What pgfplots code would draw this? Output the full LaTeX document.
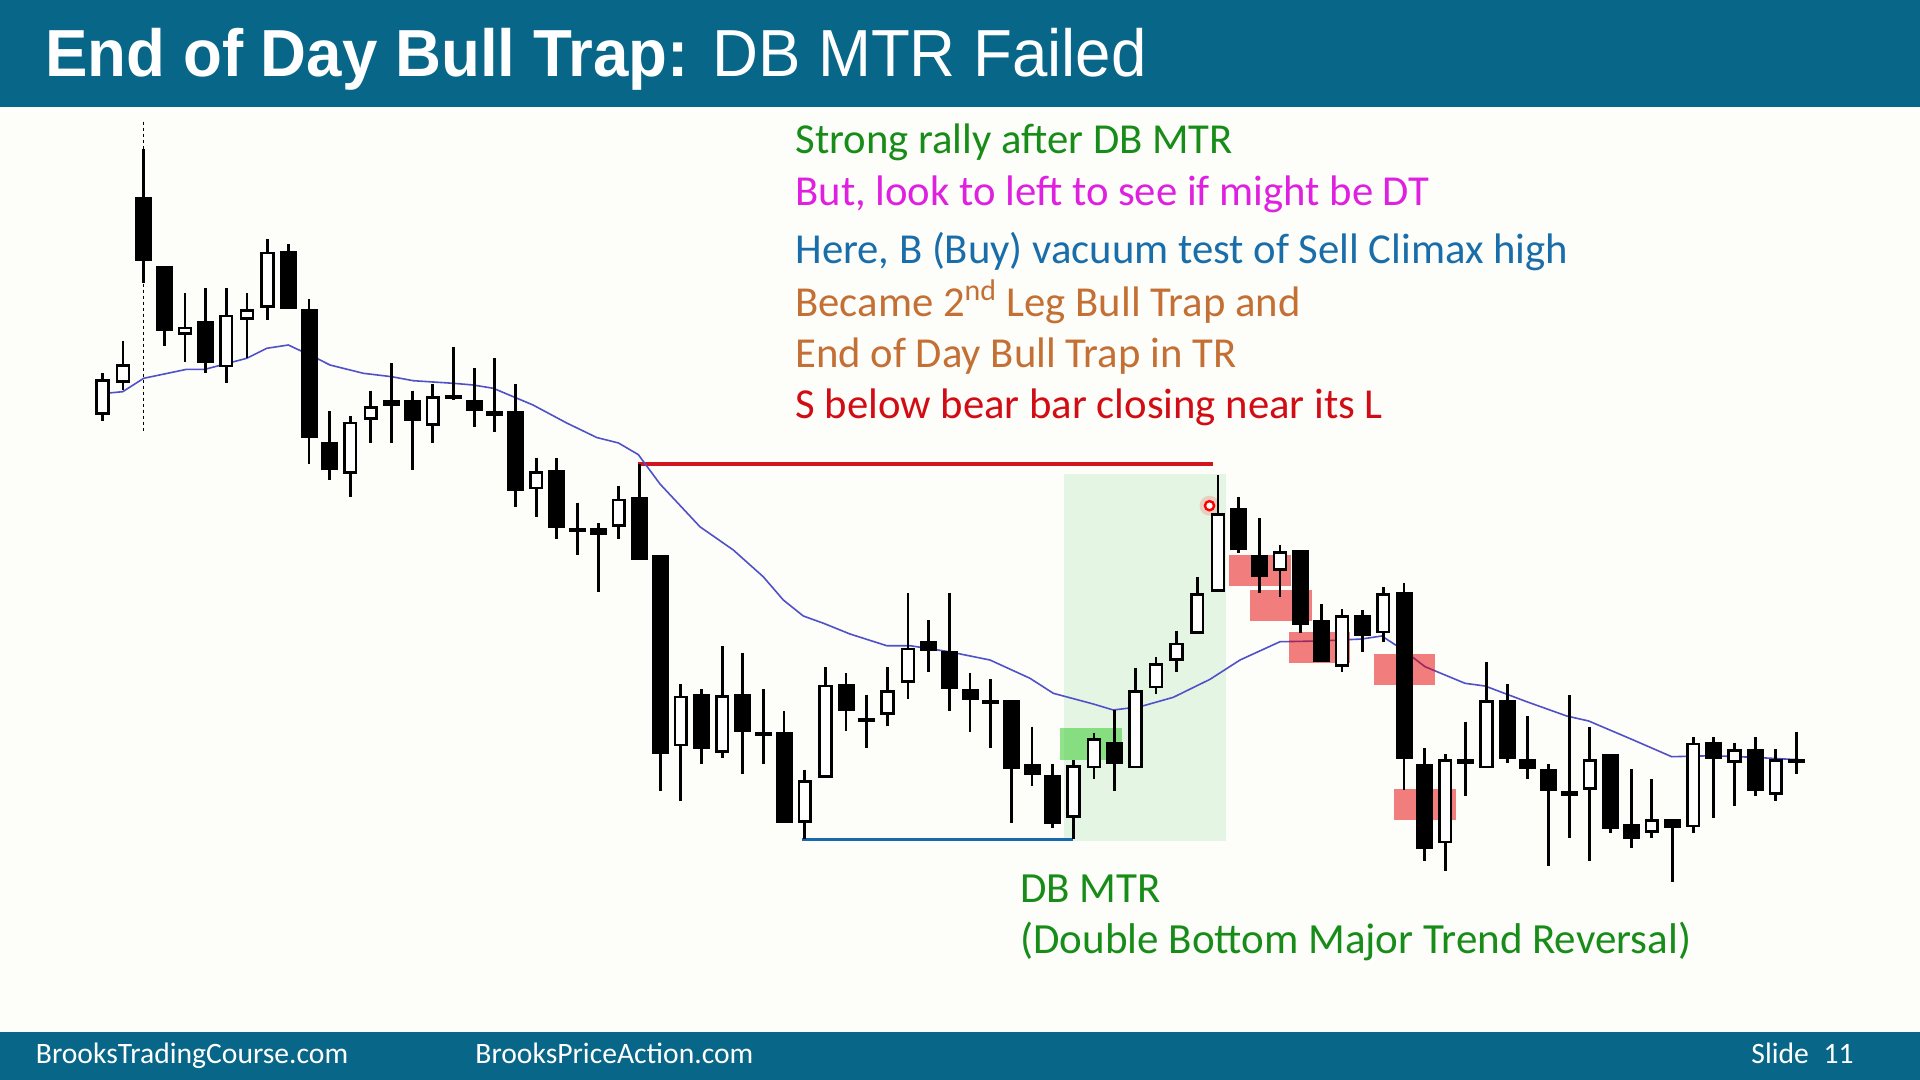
\documentclass[border=0pt]{standalone}
\usepackage{pgfplots}
\pgfplotsset{compat=1.18}
\usepackage{pgfplotstable}
\usepackage{fontspec}
\setmainfont{Carlito}
\newfontfamily\titlefont{Liberation Sans}
\definecolor{bgc}{RGB}{253,253,250}
\definecolor{hdr}{RGB}{8,103,136}
\definecolor{tgreen}{RGB}{24,140,24}
\definecolor{tmag}{RGB}{224,32,224}
\definecolor{tblue}{RGB}{25,110,170}
\definecolor{tbrown}{RGB}{196,112,52}
\definecolor{tred}{RGB}{210,12,20}
\definecolor{ema}{RGB}{80,80,200}
\definecolor{redl}{RGB}{210,20,30}
\definecolor{bluel}{RGB}{25,105,175}
\definecolor{lgreen}{RGB}{229,245,227}
\definecolor{boxred}{RGB}{230,0,0}
\definecolor{boxgreen}{RGB}{40,200,30}
\pgfdeclareplotmark{nothing}{}

% candles: i = bar number, o h l c = open high low close (read as picture heights, downward)
\pgfplotstableread{
i o h l c
1 415 373.3 420.7 379.3
2 382.7 341 390 364
3 197.3 149 282.7 260.7
4 266.7 266.7 345.7 330
5 335 293.3 362.3 326.7
6 321 288.3 373.3 362.3
7 367.3 288.3 383.3 314.7
8 320 293.3 358.3 309.3
9 308 239.3 320 251.7
10 251 244.3 308.7 308.7
11 309.3 299 464 437.3
12 442.7 411 480 469.3
13 474 416 496.7 421.7
14 420 390.7 442.7 406
15 400.7 363.3 442.7 405
16 400.7 390.7 470 420.7
17 426 384 442.7 396
18 395 346.7 400 397.3
19 400.7 368.3 427.3 410
20 411 358.3 432.3 415
21 411 384 506.7 490
22 489.3 458.2 517.1 471.4
23 470.7 458.2 539.3 527.5
24 528.6 502.5 554.6 530.4
25 527.9 523.2 592.1 533.9
26 526.8 485.7 539.3 498.6
27 497.5 464.3 559.6 559.6
28 555.7 555.7 791.1 753.6
29 746.4 683.9 801.1 695.7
30 694.6 689.3 763.6 748.2
31 752.9 646.4 758.2 695.4
32 694.6 652.5 774 731.4
33 732.1 689.3 763.6 733.9
34 732.1 711.4 822.5 822.5
35 822.5 769.6 839.3 780.4
36 777.9 667.1 777.9 684.6
37 684.6 673.2 731.4 710.7
38 717.9 694.6 748.2 720.4
39 715 667.1 726.1 690.4
40 682.9 592.9 698.9 647.5
41 641.7 620 671.7 650.7
42 651.7 592.7 710.7 688.3
43 689.3 672.7 731.7 699.3
44 700 679.3 748.3 701.7
45 700 700 823.3 768.3
46 764 726.7 785.7 774
47 775 764 828.3 823.3
48 817.7 760 839.3 765
49 768.3 732.7 779.3 738.3
50 742.7 710 790.7 763.3
51 768.3 667.7 768.3 690
52 688.3 657.3 694 663.3
53 660.7 630.7 672.3 642.7
54 634 576.7 634 593.3
55 591.7 475 591.7 513.3
56 508.3 497.3 553.3 549.3
57 555 518.3 592.7 576.7
58 571 545 597.3 551
59 550 550 633.3 624
60 620 604 661.7 661.7
61 666.7 609.3 671.7 615
62 615 610 651.7 635
63 633.3 587.3 641.7 593.3
64 592.7 582.7 790 758.3
65 764 748.3 860.7 848.3
66 843.3 754 871 759.3
67 759.3 721.7 796 763.3
68 768.3 661.7 768.3 700
69 700 684.3 763.3 758.3
70 759.3 716 779.3 768.3
71 769.3 764 866 790
72 791.7 695 838.3 795
73 790 727.3 860.7 759.3
74 754 754 833.3 828.3
75 824 769.3 848.3 838.3
76 832.7 779.3 838.3 819.3
77 819 819 881.7 827.3
78 827.3 737.3 832.7 742.7
79 742.7 737.3 818.3 758.3
80 762.7 742.7 806 749.3
81 749.3 737.3 796 790.7
82 795 749.3 800.7 759.3
83 759.3 731.7 774 760.7
}\candles

\pgfplotsset{candle/.style={
  only marks, scatter, mark=nothing,
  visualization depends on={\thisrow{o} \as \vo},
  visualization depends on={\thisrow{h} \as \vh},
  visualization depends on={\thisrow{l} \as \vl},
  visualization depends on={\thisrow{c} \as \vc},
  scatter/@pre marker code/.code={%
    \pgfmathsetmacro\yh{(\vo-\vh)*0.5}%
    \pgfmathsetmacro\yl{(\vo-\vl)*0.5}%
    \pgfmathsetmacro\yc{(\vo-\vc)*0.5}%
    \draw[black, line width=1.4pt] (0pt,\yh pt) -- (0pt,\yl pt);
    \pgfmathparse{(\vc<\vo)?1:0}%
    \ifdim\pgfmathresult pt>0.5pt
      \pgfmathsetmacro\yct{\yc-0.65}%
      \draw[black, fill=white, line width=1.3pt] (-2.95pt,0.65pt) rectangle (2.95pt,\yct pt);
    \else
      \pgfmathsetmacro\ycb{min(\yc,-1.6)}%
      \fill[black] (-4pt,0pt) rectangle (4pt,\ycb pt);
    \fi
  },
  scatter/@post marker code/.code={},
}}

\begin{document}
\begin{tikzpicture}
\begin{axis}[
  scale only axis, width=960pt, height=540pt,
  xmin=0, xmax=1920, ymin=0, ymax=1080, y dir=reverse,
  hide axis, clip=false,
]
% background and bands
\fill[bgc] (0,0) rectangle (1920,1080);
\fill[hdr] (0,0) rectangle (1920,107);
\fill[hdr] (0,1032) rectangle (1920,1080);
\fill[lgreen] (1064,474) rectangle (1226,841);

% support / resistance lines
\addplot[redl, line width=2pt] coordinates {(638,464.3) (1213,464.3)};
\addplot[bluel, line width=1.75pt] coordinates {(802,839.3) (1072.7,839.3)};
% dashed session line
\addplot[black, line width=0.7pt, dash pattern=on 1.5pt off 1.5pt] coordinates {(143.7,121.7) (143.7,431.7)};

% candles
\addplot[candle] table[x expr={102.3+20.66*(\thisrow{i}-1)}, y=o] {\candles};

% moving average
\addplot[ema, line width=0.8pt] coordinates {
(98,394) (122.7,391.7) (143.7,378.3) (186.7,369.3) (205,369.3) (246.7,358.3) (266.7,348.3)
(288.3,345) (316.7,358.3) (330,365) (363.3,373.3) (391.7,376.7) (413.3,380.7) (453.3,383.3)
(473.3,385) (493.3,388.3) (513.3,396.7) (533,405) (566.7,423) (596.7,437.5) (618.3,442.9)
(638.3,454.6) (660,484) (700,526.8) (733.3,550) (763.3,576.8) (783.3,600) (803.3,616)
(823.3,623.2) (850,634) (886.7,645.7) (910,645.7) (949,651.7) (990,660) (1030,678.3)
(1053.3,693.3) (1093.3,704) (1113.3,710) (1140,706.7) (1173.3,697.3) (1210,679.3) (1240,660)
(1280,641.7) (1320,641) (1361.7,639) (1381.7,636) (1403.3,650) (1425,666.7) (1465,683.3)
(1485,686) (1526.7,701.7) (1566.7,716) (1588.7,721) (1633.3,740) (1671.7,756.7)
(1713.3,755.7) (1753.3,757.3) (1803.3,760)
};

% highlight boxes
\fill[boxgreen, opacity=0.5] (1060,728) rectangle (1122,760);
\fill[boxred, opacity=0.5] (1229.3,555) rectangle (1290.7,585.7);
\fill[boxred, opacity=0.5] (1250,590) rectangle (1311.7,620.7);
\fill[boxred, opacity=0.5] (1289,632.3) rectangle (1350,663.3);
\fill[boxred, opacity=0.5] (1374,654.3) rectangle (1435,685);
\fill[boxred, opacity=0.5] (1394.3,789) rectangle (1455.7,820);

% pointer dot
\fill[red, opacity=0.15] (1209.5,505.7) circle[radius=5pt];
\draw[red, fill=white, line width=1.2pt] (1209.5,505.7) circle[radius=2.3pt];

% title
\node[anchor=base west, inner sep=0, text=white] at (45,77)
  {\scalebox{0.955}[1]{\titlefont\fontsize{33.3}{40}\selectfont\textbf{End of Day Bull Trap:} DB MTR Failed}};

% annotations
\begin{scope}[every node/.style={anchor=base west, inner sep=0, font=\fontsize{21.35}{25}\selectfont}]
\node[text=tgreen] at (795,154) {Strong rally after DB MTR};
\node[text=tmag] at (795,205) {But, look to left to see if might be DT};
\node[text=tblue] at (795,263) {Here, B (Buy) vacuum test of Sell Climax high};
\node[text=tbrown] at (795,316) {Became 2\textsuperscript{nd} Leg Bull Trap and};
\node[text=tbrown] at (795,367) {End of Day Bull Trap in TR};
\node[text=tred] at (795,418) {S below bear bar closing near its L};
\node[text=tgreen, font=\fontsize{21.5}{25}\selectfont] at (1020,902) {DB MTR};
\node[text=tgreen, font=\fontsize{21.5}{25}\selectfont] at (1020,953) {(Double Bottom Major Trend Reversal)};
\end{scope}

% footer
\begin{scope}[every node/.style={anchor=base west, inner sep=0, text=white, font=\fontsize{14.8}{17}\selectfont}]
\node at (35.5,1063) {BrooksTradingCourse.com};
\node at (475,1063) {BrooksPriceAction.com};
\node at (1751,1063) {Slide\enspace 11};
\end{scope}
\end{axis}
\end{tikzpicture}
\end{document}
